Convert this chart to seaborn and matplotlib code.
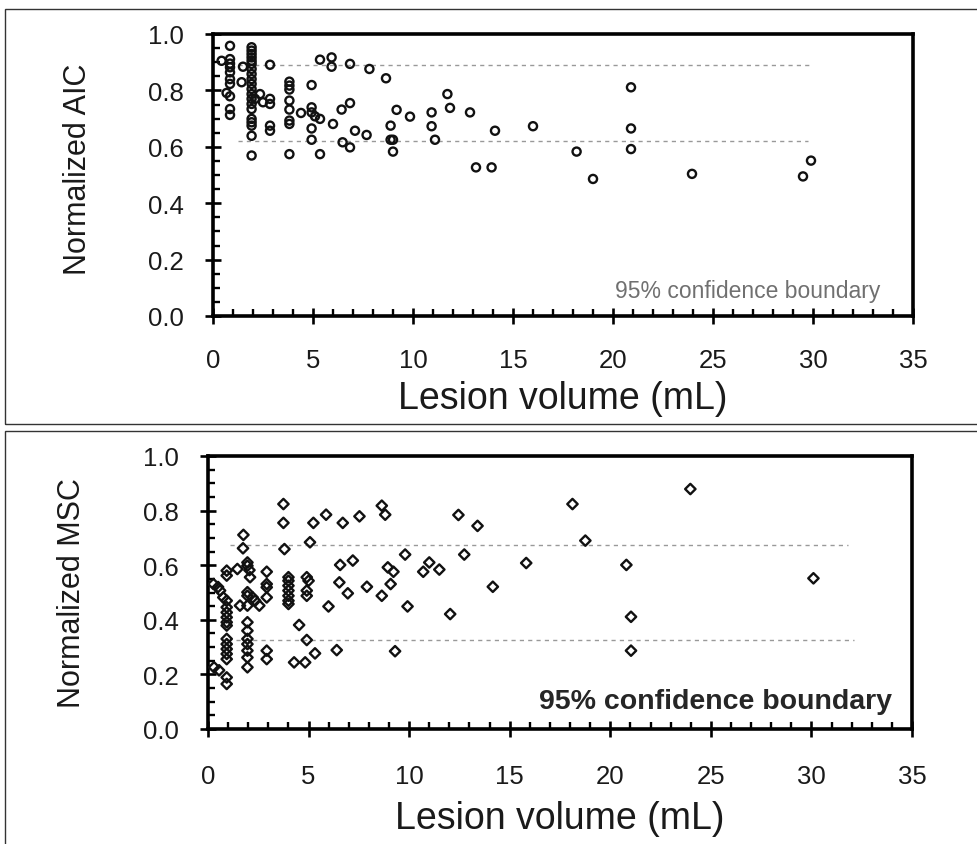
import matplotlib
matplotlib.use("Agg")
import matplotlib.pyplot as plt
from matplotlib.patches import Rectangle
from matplotlib.ticker import MultipleLocator
import pandas as pd
import seaborn as sns

# top panel: normalized AIC
aic_vol = [0.43, 0.85, 0.85, 0.85, 0.85, 0.85, 0.85, 0.85, 0.68, 0.85, 0.85, 0.85,
           1.43, 1.5,
           1.93, 1.93, 1.93, 1.93, 1.93, 1.93, 1.93, 1.93, 1.93, 1.93,
           1.93, 1.93, 1.93, 1.93, 1.93, 1.93, 1.93, 1.93, 1.93, 1.93,
           2.1, 2.35, 2.5, 2.85, 2.85, 2.85, 2.85, 2.85,
           3.82, 3.82, 3.82, 3.82, 3.82, 3.82, 3.82, 3.82,
           4.4, 4.93, 4.93, 4.93, 4.93, 4.93, 5.1, 5.35, 5.35, 5.35,
           5.93, 5.93, 6.0, 6.43, 6.48, 6.85, 6.85, 6.85, 7.1, 7.68, 7.82,
           8.65, 8.88, 8.88, 9.0, 9.0, 9.18, 9.85, 10.93, 10.93, 11.1,
           11.72, 11.85, 12.85, 13.15, 13.93, 14.1, 16.0, 18.18, 19.0,
           20.9, 20.9, 20.9, 23.95, 29.5, 29.9]
aic_val = [0.905, 0.958, 0.911, 0.895, 0.882, 0.864, 0.840, 0.823, 0.791, 0.779, 0.734, 0.713,
           0.829, 0.884,
           0.953, 0.941, 0.929, 0.917, 0.905, 0.894, 0.876, 0.858, 0.840, 0.823,
           0.805, 0.787, 0.770, 0.752, 0.734, 0.699, 0.687, 0.675, 0.639, 0.569,
           0.770, 0.787, 0.758, 0.891, 0.770, 0.752, 0.675, 0.657,
           0.831, 0.817, 0.803, 0.764, 0.732, 0.693, 0.681, 0.574,
           0.720, 0.819, 0.740, 0.722, 0.665, 0.625, 0.708, 0.909, 0.699, 0.574,
           0.917, 0.884, 0.681, 0.732, 0.616, 0.894, 0.755, 0.598, 0.657, 0.642, 0.876,
           0.843, 0.675, 0.625, 0.625, 0.583, 0.731, 0.707, 0.722, 0.673, 0.625,
           0.787, 0.738, 0.722, 0.527, 0.527, 0.657, 0.673, 0.583, 0.486,
           0.811, 0.665, 0.592, 0.504, 0.495, 0.551]
aic_ci = [0.891, 0.619]
aic_ci_start = [1.25, 1.25]
aic_ci_end = [29.85, 29.75]

# bottom panel: normalized MSC
msc_vol = [0.27, 0.5, 0.6, 0.76,
           0.93, 0.93, 0.93, 0.93, 0.93, 0.93, 0.93, 0.93,
           0.93, 0.93, 0.93, 0.93, 0.93, 0.93, 0.93,
           0.3, 0.55, 1.46, 1.59, 1.76, 1.74,
           1.96, 1.96, 1.96, 1.96, 1.96, 1.96, 1.96, 1.96, 1.96, 1.96, 1.96, 1.96,
           2.06, 2.09, 2.22, 2.34, 2.55,
           2.92, 2.92, 2.92, 2.92, 2.92, 2.92,
           3.75, 3.75, 3.8,
           4.0, 4.0, 4.0, 4.0, 4.0, 4.0, 4.0,
           4.53, 4.28, 4.83, 4.91, 5.32, 4.91, 5.0, 4.91, 4.91,
           5.07, 5.24, 5.87, 5.99, 6.4, 6.53, 6.57, 6.7, 6.95, 7.2, 7.53, 7.9,
           8.64, 8.81, 8.64, 8.94, 9.22, 9.08, 9.3, 9.8, 9.92,
           10.7, 11.0, 11.5, 12.04, 12.45, 12.74, 13.4, 14.16, 15.82,
           18.12, 18.76, 20.8, 21.03, 21.03, 23.98, 30.1]
msc_val = [0.531, 0.52, 0.507, 0.482,
           0.580, 0.562, 0.470, 0.446, 0.427, 0.409, 0.391, 0.379,
           0.330, 0.311, 0.293, 0.275, 0.256, 0.189, 0.165,
           0.226, 0.215, 0.586, 0.452, 0.711, 0.662,
           0.610, 0.598, 0.501, 0.488, 0.452, 0.391, 0.360, 0.330, 0.311, 0.287, 0.262, 0.226,
           0.582, 0.556, 0.482, 0.470, 0.452,
           0.576, 0.531, 0.519, 0.482, 0.287, 0.256,
           0.824, 0.755, 0.659,
           0.556, 0.543, 0.525, 0.507, 0.488, 0.470, 0.458,
           0.381, 0.244, 0.244, 0.326, 0.277, 0.556, 0.543, 0.507, 0.488,
           0.684, 0.755, 0.785, 0.449, 0.289, 0.537, 0.601, 0.755, 0.497, 0.617, 0.779, 0.521,
           0.818, 0.785, 0.488, 0.592, 0.576, 0.531, 0.285, 0.639, 0.449,
           0.576, 0.610, 0.584, 0.421, 0.784, 0.639, 0.744, 0.521, 0.608,
           0.824, 0.690, 0.601, 0.411, 0.287, 0.879, 0.552]
msc_ci = [0.674, 0.326]
msc_ci_start = [1.1, 1.4]
msc_ci_end = [31.8, 32.1]

xticks = [0, 5, 10, 15, 20, 25, 30, 35]
yticks = [0.0, 0.2, 0.4, 0.6, 0.8, 1.0]

sns.set_style("ticks")
plt.rcParams['font.family'] = ['Liberation Sans', 'DejaVu Sans']

W, H = 977, 845
fig = plt.figure(figsize=(W / 100, H / 100), dpi=100)


def px_axes(l, t, r, b):
    return fig.add_axes([l / W, 1 - b / H, (r - l) / W, (b - t) / H])


def style(ax, ylabel, ylab_y, xlab_y, xpad):
    ax.set_xlim(0, 35)
    ax.set_ylim(0, 1)
    ax.set_xticks(xticks)
    ax.set_xticklabels([str(t) for t in xticks])
    ax.set_yticks(yticks)
    ax.set_yticklabels([f"{t:.1f}" for t in yticks])
    ax.xaxis.set_minor_locator(MultipleLocator(1))
    ax.yaxis.set_minor_locator(MultipleLocator(0.05))
    ax.tick_params(which='major', direction='inout', length=12, width=1.9,
                   labelsize=18.5, color='black', labelcolor='#1a1a1a',
                   bottom=True, left=True)
    ax.tick_params(axis='x', which='major', pad=xpad)
    ax.tick_params(axis='y', which='major', pad=15)
    ax.tick_params(which='minor', direction='in', length=5, width=1.7,
                   color='black', bottom=True, left=True)
    for s in ax.spines.values():
        s.set_visible(True)
        s.set_linewidth(2.6)
        s.set_color('black')
    ax.set_xlabel('Lesion volume (mL)', fontsize=27, color='#1a1a1a')
    ax.set_ylabel(ylabel, fontsize=22, color='#1a1a1a')
    ax.xaxis.set_label_coords(0.5, xlab_y)
    ax.yaxis.set_label_coords(-0.172, ylab_y)


# outer frames of the two panels
fig.add_artist(Rectangle((5 / W, 1 - 425 / H), 1.2, (425 - 10) / H,
                         transform=fig.transFigure, fill=False, lw=1.0, ec='#333333'))
fig.add_artist(Rectangle((5 / W, -0.2), 1.2, 0.2 + (845 - 432) / H,
                         transform=fig.transFigure, fill=False, lw=1.0, ec='#333333'))

ax1 = px_axes(213, 35, 913, 317)
ax2 = px_axes(208, 457, 912, 730)

aic = pd.DataFrame({'vol': aic_vol, 'val': aic_val})
msc = pd.DataFrame({'vol': msc_vol, 'val': msc_val})

for lvl, x0, x1 in zip(aic_ci, aic_ci_start, aic_ci_end):
    ax1.plot([x0, x1], [lvl, lvl], color='#999999', lw=1.0, ls=(0, (3, 3)), zorder=1)
sns.scatterplot(data=aic, x='vol', y='val', ax=ax1, marker='o', s=34,
                facecolors='none', edgecolor='#111111', linewidth=1.7, zorder=3)
ax1.text(33.35, 0.092, '95% confidence boundary', ha='right', va='center',
         fontsize=16.5, color='#707070')
style(ax1, 'Normalized AIC', 0.525, -0.228, 17)

for lvl, x0, x1 in zip(msc_ci, msc_ci_start, msc_ci_end):
    ax2.plot([x0, x1], [lvl, lvl], color='#999999', lw=1.0, ls=(0, (3, 3)), zorder=1)
sns.scatterplot(data=msc, x='vol', y='val', ax=ax2, marker='D', s=28,
                facecolors='none', edgecolor='#111111', linewidth=1.7, zorder=3)
ax2.text(34.0, 0.103, '95% confidence boundary', ha='right', va='center',
         fontsize=20.5, fontweight='bold', color='#262626')
style(ax2, 'Normalized MSC', 0.5, -0.26, 19)

fig.savefig('out.png', dpi=100, facecolor='white')
